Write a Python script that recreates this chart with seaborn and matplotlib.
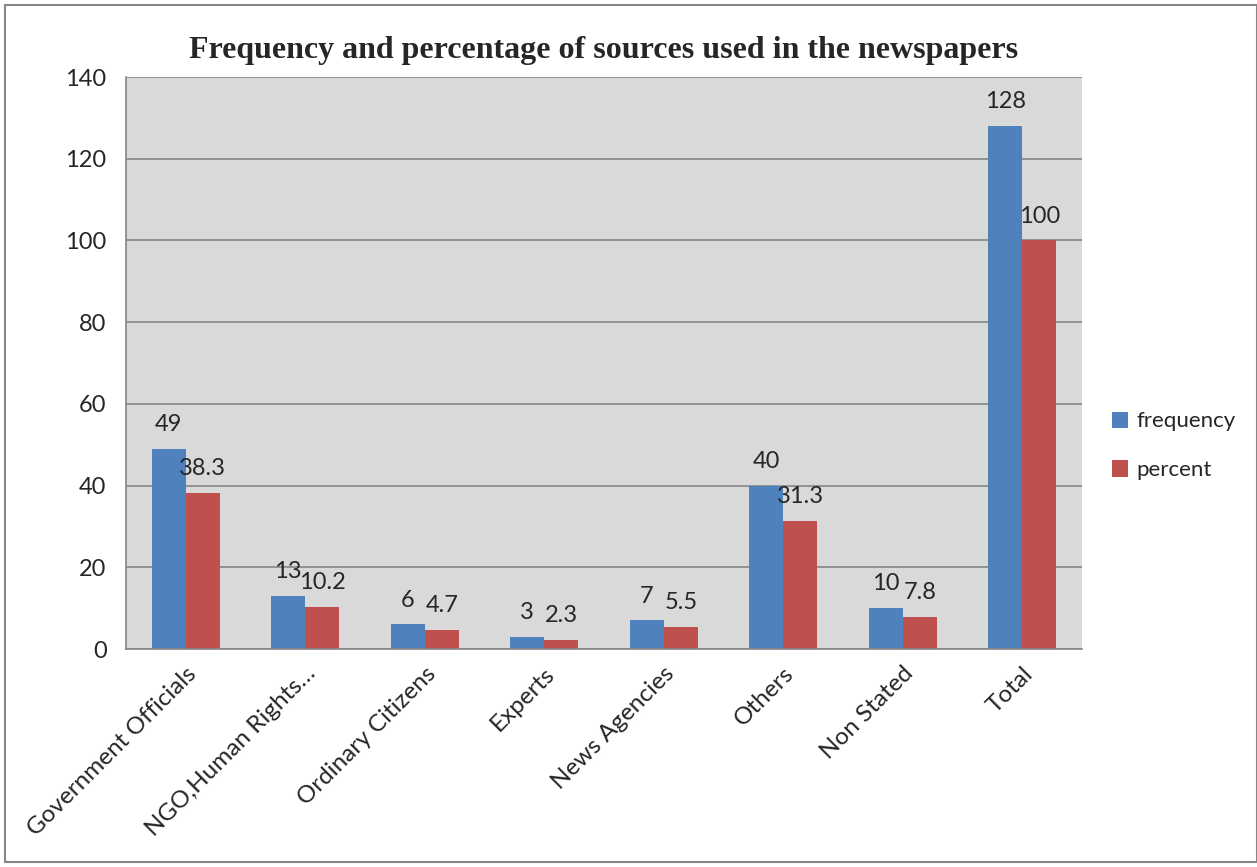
import pandas as pd
import seaborn as sns
import matplotlib.pyplot as plt
from matplotlib.patches import Rectangle

# chart values
categories = ["Government Officials", "NGO,Human Rights…", "Ordinary Citizens", "Experts",
              "News Agencies", "Others", "Non Stated", "Total"]
frequency = [49, 13, 6, 3, 7, 40, 10, 128]
percent = [38.3, 10.2, 4.7, 2.3, 5.5, 31.3, 7.8, 100]
freq_labels = ["49", "13", "6", "3", "7", "40", "10", "128"]
pct_labels = ["38.3", "10.2", "4.7", "2.3", "5.5", "31.3", "7.8", "100"]

df = pd.DataFrame({
    "source": categories * 2,
    "value": frequency + percent,
    "series": ["frequency"] * len(categories) + ["percent"] * len(categories),
})

sns.set_style("white")
plt.rcParams["font.family"] = ["Lato", "DejaVu Sans"]

fig = plt.figure(figsize=(12.57, 8.67), dpi=100)
ax = fig.add_axes([126 / 1257, 1 - 649 / 867, (1082 - 126) / 1257, (649 - 77) / 867])

sns.barplot(data=df, x="source", y="value", hue="series", palette=["#4F81BD", "#C0504D"],
            width=0.57, saturation=1, linewidth=0, ax=ax, legend=True)

ax.set_facecolor("#D9D9D9")
ax.set_ylim(0, 140)
ax.set_xlim(-0.5, len(categories) - 0.5)
ax.set_yticks(range(0, 141, 20))
ax.yaxis.grid(True, color="#868686", linewidth=1.2)
ax.set_axisbelow(True)
for side in ["top", "right"]:
    ax.spines[side].set_visible(False)
for side in ["left", "bottom"]:
    ax.spines[side].set_color("#868686")
    ax.spines[side].set_linewidth(1.2)

# x ticks at category boundaries, labels at centres
ax.set_xticks([i - 0.5 for i in range(len(categories) + 1)])
ax.set_xticklabels([])
ax.set_xticks(range(len(categories)), minor=True)
ax.set_xticklabels(categories, minor=True, rotation=45, ha="right", rotation_mode="anchor",
                   fontsize=17.5)
ax.tick_params(axis="x", which="minor", length=0, pad=10)
ax.tick_params(axis="x", which="major", length=7, color="#868686", width=1.2, direction="out")
ax.tick_params(axis="y", length=8, color="#868686", width=1.2, direction="out", labelsize=17, pad=6)
ax.set_xlabel("")
ax.set_ylabel("")

# value labels
for cont, labs in zip(ax.containers, [freq_labels, pct_labels]):
    ax.bar_label(cont, labels=labs, padding=10, fontsize=17)

ax.set_title("Frequency and percentage of sources used in the newspapers",
             fontsize=23, fontweight="bold", family="Liberation Serif", pad=14)

leg = ax.legend(loc="center left", bbox_to_anchor=(1.01, 0.355), frameon=False, fontsize=16,
                handlelength=0.75, handleheight=0.75, handletextpad=0.35, labelspacing=1.3)

# outer chart border
fig.patches.append(Rectangle((5 / 1257, 5 / 867), 1 - 5 / 1257, 1 - 10 / 867,
                             transform=fig.transFigure, fill=False, edgecolor="#868686",
                             linewidth=1.5))

fig.savefig("out.png", dpi=100)
